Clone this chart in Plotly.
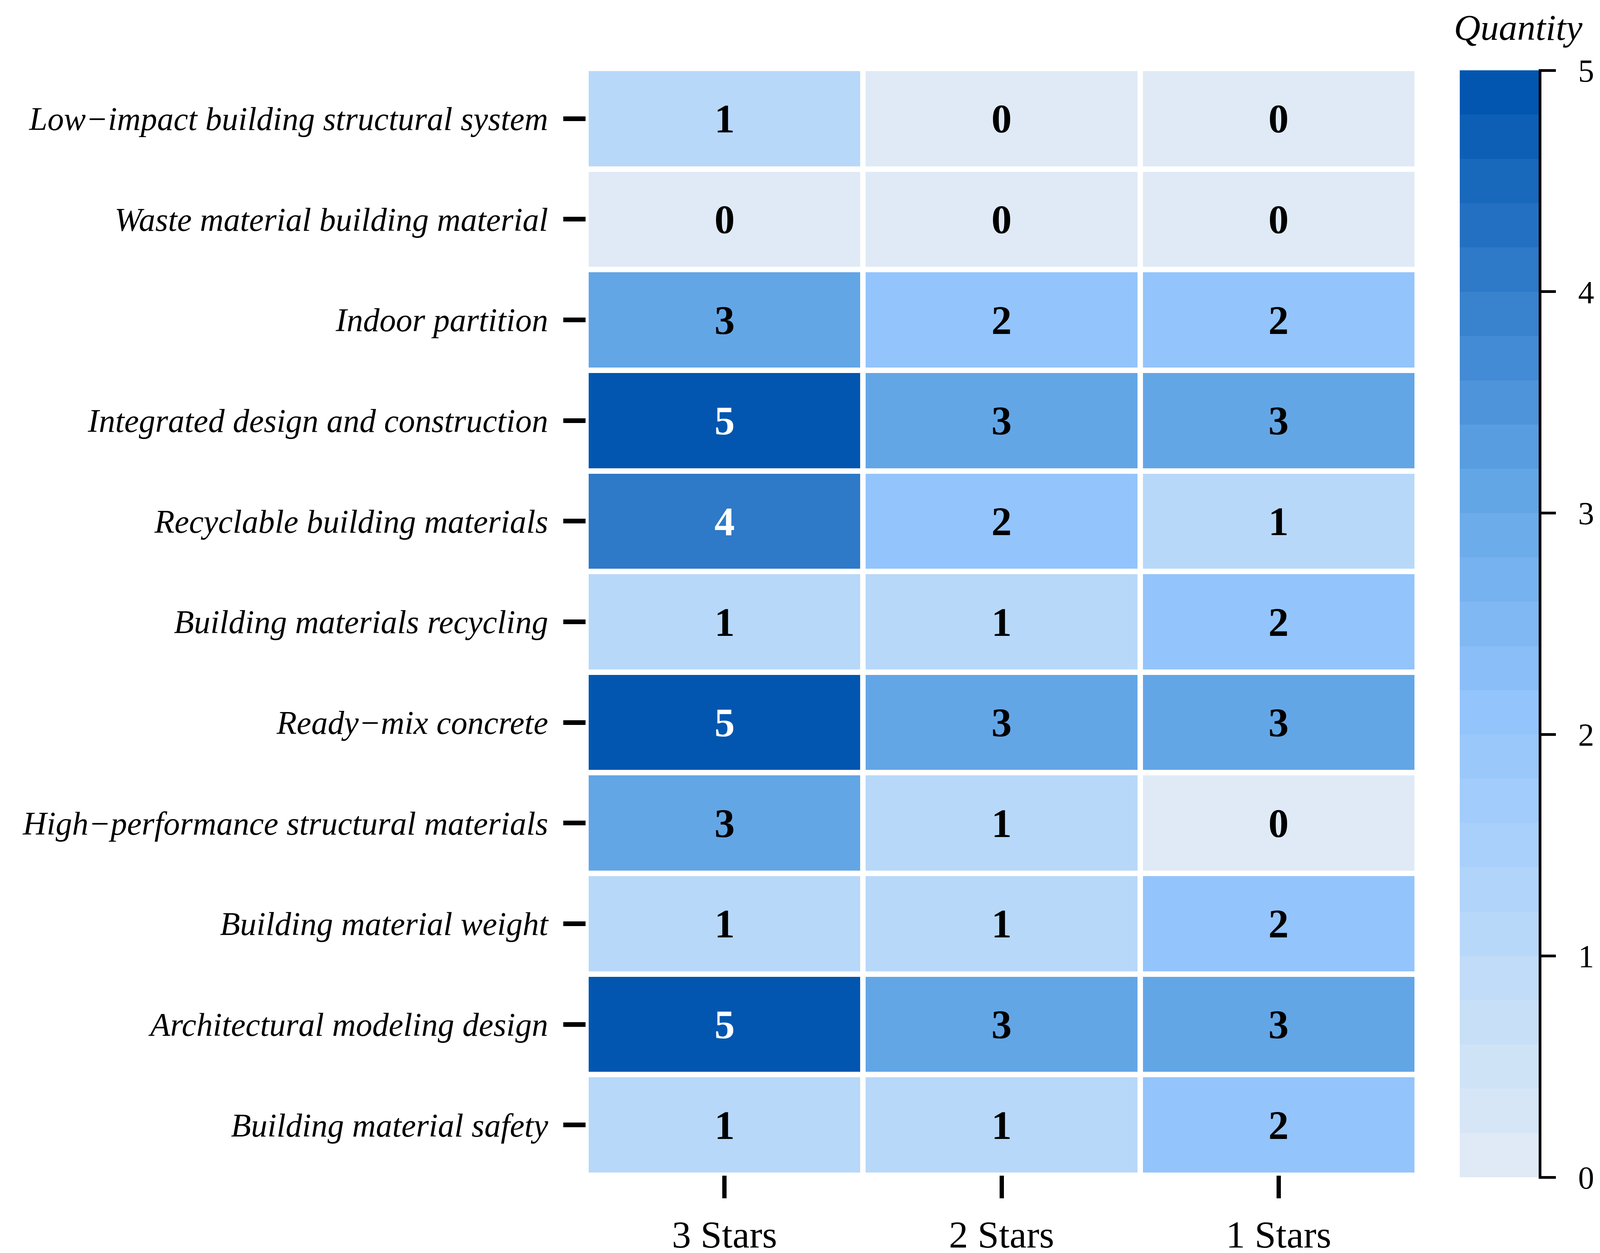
import plotly.graph_objects as go

# ---- data ----
categories = [
    "Low\u2212impact building structural system",
    "Waste material building material",
    "Indoor partition",
    "Integrated design and construction",
    "Recyclable building materials",
    "Building materials recycling",
    "Ready\u2212mix concrete",
    "High\u2212performance structural materials",
    "Building material weight",
    "Architectural modeling design",
    "Building material safety",
]
star_levels = ["3 Stars", "2 Stars", "1 Stars"]
three_stars = [1, 0, 3, 5, 4, 1, 5, 3, 1, 5, 1]
two_stars = [0, 0, 2, 3, 2, 1, 3, 1, 1, 3, 1]
one_stars = [0, 0, 2, 3, 1, 2, 3, 0, 2, 3, 2]
cbar_ticks = [0, 1, 2, 3, 4, 5]

# ---- styling ----
W, H = 4135, 3208
FONT = "Liberation Serif"
PL, PR, PT, PB = 1492, 3620, 167, 3001          # plot area in pixels
L, R, T, B = PL, W - PR, PT, H - PB
plot_w = PR - PL
plot_h = PB - PT

# discrete 25-band colormap from anchor colours
anchors = [(0, "#DFEAF6"), (5, "#B8D8F9"), (10, "#93C4FC"), (15, "#63A6E6"),
           (20, "#2E79C8"), (24, "#0256B0")]


def hx(c):
    return [int(c[i:i + 2], 16) for i in (1, 3, 5)]


def band_color(k):
    for (a, ca), (b, cb) in zip(anchors[:-1], anchors[1:]):
        if a <= k <= b:
            t = (k - a) / (b - a)
            A, Bc = hx(ca), hx(cb)
            return "rgb(%d,%d,%d)" % tuple(round(A[i] + (Bc[i] - A[i]) * t) for i in range(3))
    return anchors[-1][1]


N = 25
colorscale = []
for k in range(N):
    lo = 0.0 if k == 0 else k / N - 1e-6
    hi = 1.0 if k == N - 1 else (k + 1) / N - 1e-6
    c = band_color(k)
    colorscale.append([lo, c])
    colorscale.append([hi, c])

z = [[a, b, c] for a, b, c in zip(three_stars, two_stars, one_stars)]

CB_LEFT, CB_THICK, CB_TOP, CB_BOTTOM = 3729, 202, 172, 3006

fig = go.Figure()
fig.add_trace(go.Heatmap(
    z=z, x=star_levels, y=categories,
    zmin=0, zmax=5, colorscale=colorscale,
    xgap=14, ygap=14,
    hoverinfo="skip",
    colorbar=dict(
        xref="paper", yref="paper",
        x=(CB_LEFT - PL) / plot_w, xanchor="left", xpad=0,
        y=(PB - CB_BOTTOM) / plot_h, yanchor="bottom", ypad=0,
        thickness=CB_THICK, thicknessmode="pixels",
        len=CB_BOTTOM - CB_TOP, lenmode="pixels",
        outlinewidth=0,
        tickmode="array", tickvals=cbar_ticks,
        ticktext=["\u00a0\u00a0" + str(v) for v in cbar_ticks],
        ticks="outside", ticklen=44, tickwidth=7, tickcolor="black",
        tickfont=dict(family=FONT, size=82, color="black"),
    ),
))

# cell value labels
for i, cat in enumerate(categories):
    for j, lvl in enumerate(star_levels):
        v = z[i][j]
        fig.add_annotation(
            x=lvl, y=cat, text="<b>%d</b>" % v, showarrow=False,
            font=dict(family=FONT, size=104, color="white" if v >= 4 else "black"),
        )

# colorbar axis line (right side only)
xl = (CB_LEFT + CB_THICK + 3.5 - PL) / plot_w
fig.add_shape(type="line", xref="paper", yref="paper",
              x0=xl, x1=xl,
              y0=(PB - CB_BOTTOM - 3) / plot_h, y1=(PB - CB_TOP + 3) / plot_h,
              line=dict(color="black", width=7))

fig.add_annotation(
    xref="paper", yref="paper", x=(3878 - PL) / plot_w, y=(PB - 62) / plot_h,
    text="<i>Quantity</i>", showarrow=False, xanchor="center", yanchor="middle",
    font=dict(family=FONT, size=94, color="black"),
)

fig.update_xaxes(
    showgrid=False, zeroline=False, showline=False,
    ticks="outside", ticklen=58, tickwidth=11, tickcolor="black",
    tickfont=dict(family=FONT, size=98, color="black"),
    ticklabelstandoff=8,
)
fig.update_yaxes(
    autorange="reversed",
    showgrid=False, zeroline=False, showline=False,
    ticks="outside", ticklen=57, tickwidth=12, tickcolor="black",
    tickfont=dict(family=FONT, size=84, color="black", style="italic"),
    ticklabelstandoff=22,
)
fig.update_layout(
    width=W, height=H,
    margin=dict(l=L, r=R, t=T, b=B, autoexpand=False),
    paper_bgcolor="white", plot_bgcolor="white",
    font=dict(family=FONT, color="black"),
    showlegend=False,
)

fig.write_html("out.html")
